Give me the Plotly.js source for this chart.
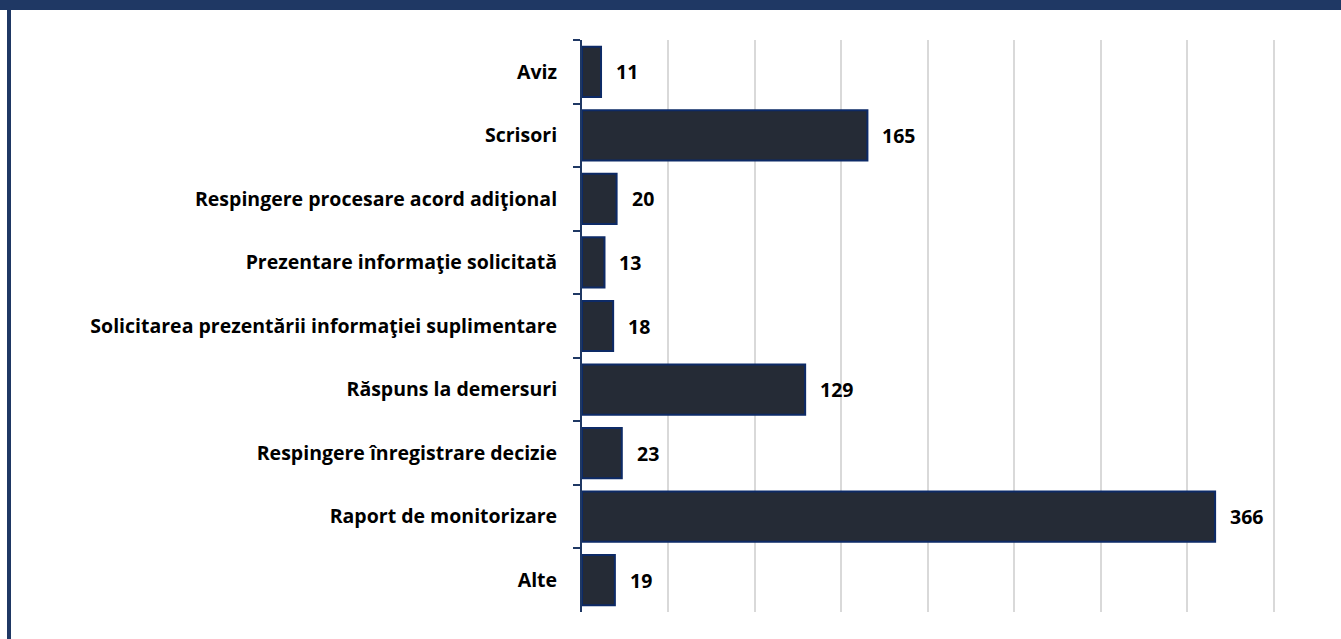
<!DOCTYPE html>
<html>
<head>
<meta charset="utf-8">
<script src="https://cdn.plot.ly/plotly-3.0.1.min.js"></script>
<style>
html,body{margin:0;padding:0;background:#fff;}
#wrap{position:relative;width:1341px;height:639px;overflow:hidden;}
#chart{position:absolute;left:0;top:0;width:1341px;height:639px;}
#topband{position:absolute;left:0;top:0;width:1341px;height:10px;background:#1f3864;}
#leftband{position:absolute;left:7px;top:0;width:4px;height:639px;background:#1f3864;}
</style>
</head>
<body>
<div id="wrap">
<div id="chart"></div>
<div id="topband"></div>
<div id="leftband"></div>
</div>
<script>
const categories = [
  "Aviz",
  "Scrisori",
  "Respingere procesare acord adiţional",
  "Prezentare informaţie solicitată",
  "Solicitarea prezentării informaţiei suplimentare",
  "Răspuns la demersuri",
  "Respingere înregistrare decizie",
  "Raport de monitorizare",
  "Alte"
];
const values = [11, 165, 20, 13, 18, 129, 23, 366, 19];

const fontFam = "'Open Sans', sans-serif";
const fsize = 19.5;

const trace = {
  type: "bar",
  orientation: "h",
  x: values,
  y: categories,
  marker: {color: "#252b36", line: {color: "#0d2a66", width: 2}},
  hoverinfo: "x+y"
};

const annotations = values.map((v, i) => ({
  x: v, y: categories[i], xref: "x", yref: "y",
  text: String(v), showarrow: false, xanchor: "left", yanchor: "middle",
  xshift: 13, font: {family: fontFam, size: fsize, color: "#000", weight: 700}
}));

const layout = {
  width: 1341, height: 639,
  margin: {l: 582, r: 65, t: 40, b: 27, pad: 0},
  paper_bgcolor: "#fff", plot_bgcolor: "#fff",
  showlegend: false,
  bargap: 0.21,
  font: {family: fontFam, size: fsize, color: "#000", weight: 700},
  xaxis: {
    range: [0, 401.2], dtick: 50, tick0: 0,
    showgrid: true, gridcolor: "#d9d9d9", gridwidth: 2,
    showticklabels: false, zeroline: false, showline: false, ticks: ""
  },
  yaxis: {
    autorange: "reversed", type: "category",
    showline: true, linecolor: "#1f3864", linewidth: 2,
    ticks: "outside", tickson: "boundaries", ticklen: 7, tickcolor: "#1f3864", tickwidth: 2,
    showgrid: false, zeroline: false,
    ticklabelstandoff: 19,
    tickfont: {family: fontFam, size: fsize, color: "#000", weight: 700}
  },
  annotations: annotations
};

Plotly.newPlot("chart", [trace], layout, {displayModeBar: false, staticPlot: true});
</script>
</body>
</html>
